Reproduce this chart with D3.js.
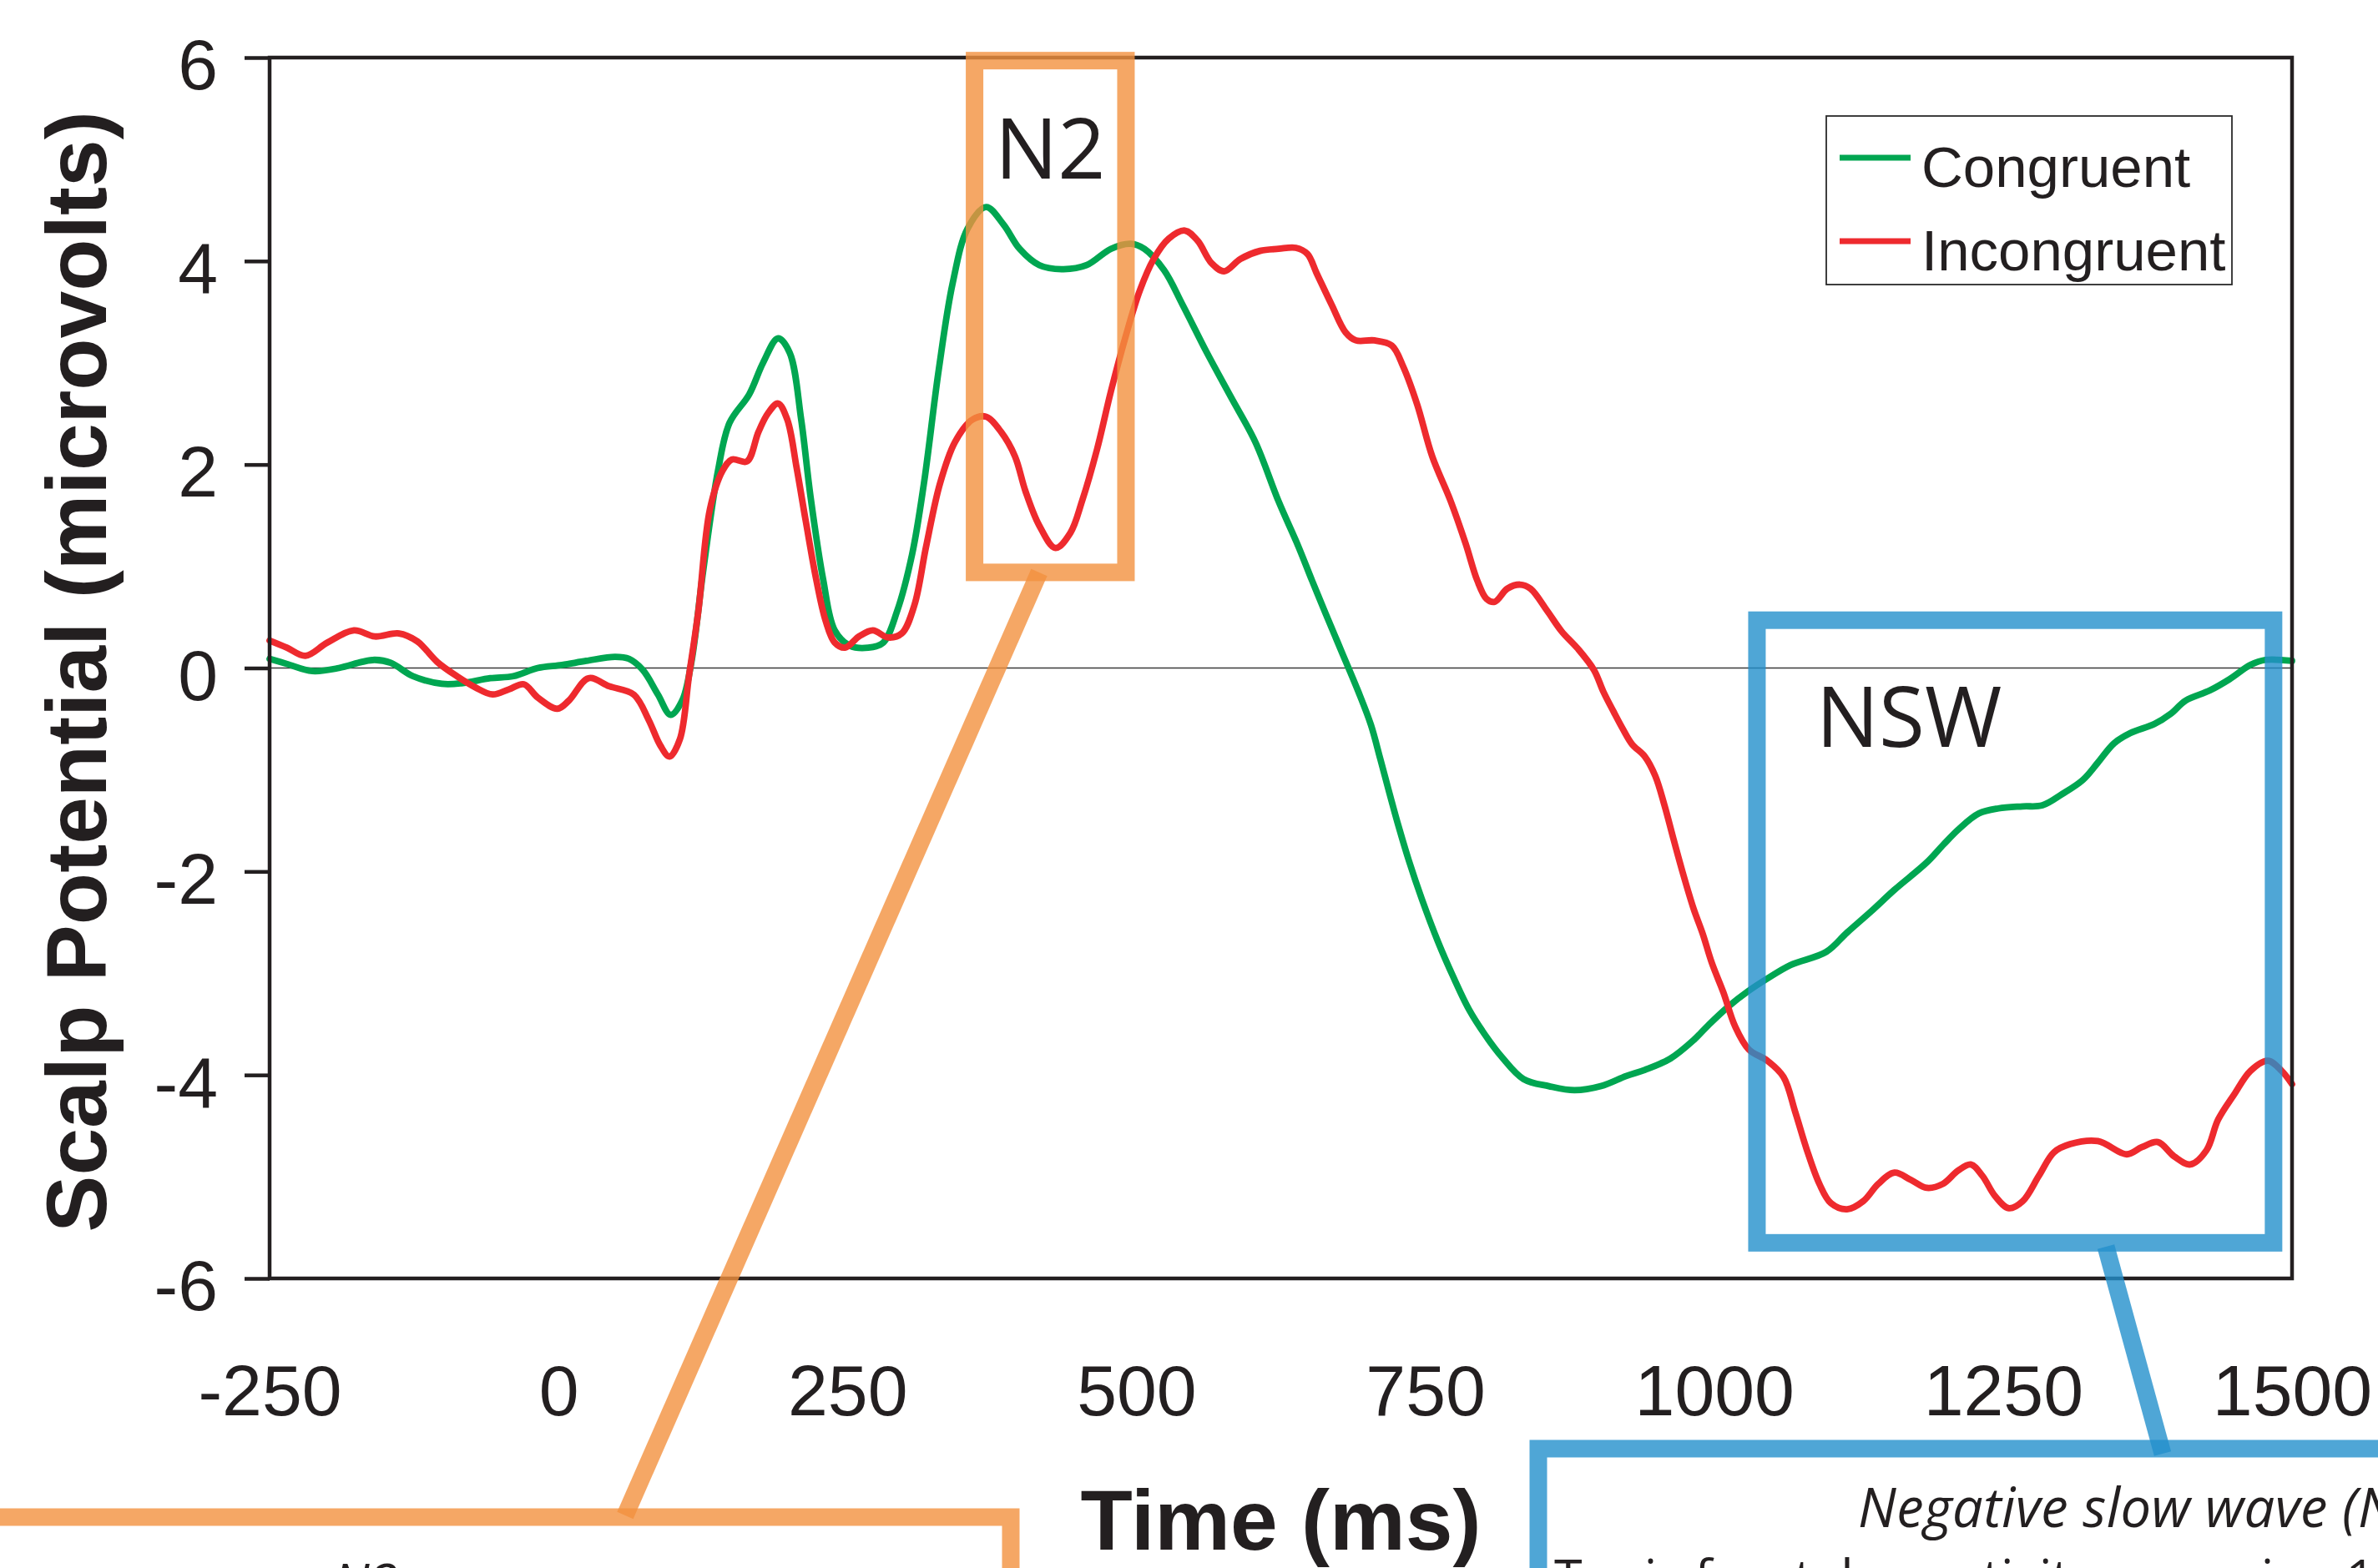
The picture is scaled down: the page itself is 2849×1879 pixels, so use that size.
<!DOCTYPE html>
<html>
<head>
<meta charset="utf-8">
<script src="https://cdn.jsdelivr.net/npm/d3@7"></script>
<style>
  html, body { margin: 0; padding: 0; background: #ffffff; }
  svg { display: block; }
</style>
</head>
<body>
<svg id="chart" width="2849" height="1879"></svg>
<script>
// Grand-average ERP waveforms (µV) by time (ms)
const congruentTime = [-250,-235,-213,-190,-170,-159,-145,-126,-101,-84,-59,-39,-18,3,24,49,61,73,86,97,107,115,125,138,148,165,177,190,200,210,218,229,239,252,268,281,293,306,316,329,341,354,370,385,399,416,437,457,478,495,507,524,540,561,582,603,623,640,652,664,678,692,703,711,719,727,736,747,761,774,788,802,816,835,857,879,902,924,940,962,982,995,1012,1029,1045,1066,1097,1115,1136,1156,1184,1198,1212,1229,1246,1267,1284,1301,1319,1332,1346,1360,1381,1395,1408,1429,1446,1464,1477,1500];
const congruent = [0.09,0.04,-0.03,0.0,0.06,0.08,0.05,-0.08,-0.155,-0.15,-0.1,-0.08,0.0,0.03,0.07,0.11,0.09,-0.02,-0.26,-0.46,-0.32,0.06,0.94,1.94,2.41,2.69,3.0,3.24,3.1,2.44,1.69,0.87,0.37,0.22,0.2,0.25,0.56,1.12,1.8,2.93,3.78,4.32,4.53,4.36,4.12,3.96,3.92,3.96,4.12,4.17,4.12,3.91,3.57,3.1,2.66,2.22,1.64,1.2,0.86,0.53,0.15,-0.23,-0.56,-0.89,-1.23,-1.56,-1.9,-2.27,-2.69,-3.03,-3.36,-3.61,-3.82,-4.04,-4.11,-4.15,-4.11,-4.01,-3.95,-3.84,-3.66,-3.51,-3.33,-3.18,-3.06,-2.92,-2.79,-2.6,-2.39,-2.18,-1.91,-1.74,-1.58,-1.43,-1.38,-1.36,-1.35,-1.24,-1.1,-0.93,-0.74,-0.64,-0.55,-0.45,-0.32,-0.22,-0.11,0.03,0.08,0.07];

const incongruentTime = [-250,-235,-219,-200,-177,-159,-138,-122,-105,-88,-72,-57,-43,-30,-18,-1,9,26,44,65,78,88,96,105,113,121,131,142,150,163,173,181,190,198,206,214,223,231,239,248,260,272,285,297,308,318,330,343,358,370,383,395,404,416,430,443,453,466,478,491,503,515,528,542,553,565,576,590,607,623,638,648,656,669,681,690,706,721,731,743,756,772,785,795,803,810,821,832,841,855,868,882,896,904,913,921,929,940,949,957,965,973,982,990,998,1008,1018,1030,1046,1060,1070,1080,1091,1101,1115,1129,1142,1156,1170,1184,1198,1211,1222,1232,1243,1255,1267,1281,1294,1308,1332,1357,1370,1384,1398,1412,1426,1436,1450,1464,1479,1491,1500];
const incongruent = [0.27,0.2,0.12,0.25,0.37,0.31,0.34,0.26,0.06,-0.08,-0.19,-0.26,-0.21,-0.16,-0.29,-0.4,-0.32,-0.1,-0.18,-0.26,-0.51,-0.76,-0.87,-0.7,-0.07,0.56,1.56,1.94,2.05,2.03,2.32,2.5,2.6,2.44,1.97,1.44,0.87,0.47,0.25,0.2,0.31,0.37,0.3,0.34,0.62,1.19,1.81,2.22,2.44,2.47,2.32,2.08,1.74,1.4,1.18,1.33,1.64,2.15,2.72,3.27,3.71,4.02,4.22,4.3,4.2,3.98,3.9,4.02,4.1,4.12,4.13,4.07,3.88,3.57,3.3,3.22,3.22,3.17,2.96,2.59,2.08,1.64,1.22,0.86,0.68,0.65,0.78,0.82,0.78,0.57,0.36,0.19,-0.02,-0.23,-0.43,-0.6,-0.75,-0.87,-1.06,-1.35,-1.69,-2.02,-2.36,-2.61,-2.9,-3.19,-3.52,-3.75,-3.86,-4.02,-4.36,-4.73,-5.07,-5.26,-5.32,-5.24,-5.07,-4.96,-5.03,-5.11,-5.07,-4.94,-4.88,-4.99,-5.19,-5.31,-5.24,-4.99,-4.76,-4.68,-4.65,-4.78,-4.71,-4.66,-4.8,-4.88,-4.74,-4.44,-4.19,-3.96,-3.86,-3.96,-4.09];

const xTicks = [-250, 0, 250, 500, 750, 1000, 1250, 1500];
const yTicks = [-6, -4, -2, 0, 2, 4, 6];
const seriesNames = ["Congruent", "Incongruent"];
const seriesColors = ["#00a651", "#ee2a2e"];

// Highlighted time windows (ms) and the µV range each box spans
const n2Window = { t0: 360, t1: 491, v0: 0.94, v1: 5.97 };
const nswWindow = { t0: 1037, t1: 1484, v0: -5.65, v1: 0.47 };

const svg = d3.select("#chart");
const ink = "#231f20";
const plot = { left: 323, right: 2746, top: 69, bottom: 1532 };
const plainNumber = d => String(d);   // ASCII hyphen for negatives

const x = d3.scaleLinear().domain([-250, 1500]).range([plot.left, plot.right]);
const y = d3.scaleLinear().domain([-6, 6]).range([plot.bottom, plot.top]);

// zero reference line
svg.append("line")
  .attr("x1", x(-250)).attr("x2", x(1500))
  .attr("y1", y(0)).attr("y2", y(0))
  .attr("stroke", "#3a3a3a").attr("stroke-width", 1.6);

// waveforms
const line = d3.line()
  .x(d => x(d[0])).y(d => y(d[1]))
  .curve(d3.curveCatmullRom.alpha(0.5));

const series = [
  d3.zip(congruentTime, congruent),
  d3.zip(incongruentTime, incongruent)
];
series.forEach((pts, i) => {
  svg.append("path")
    .datum(pts)
    .attr("d", line)
    .attr("fill", "none")
    .attr("stroke", seriesColors[i])
    .attr("stroke-width", 7.8)
    .attr("stroke-linejoin", "round")
    .attr("stroke-linecap", "round");
});

// frame
svg.append("rect")
  .attr("x", plot.left).attr("y", plot.top)
  .attr("width", plot.right - plot.left).attr("height", plot.bottom - plot.top)
  .attr("fill", "none").attr("stroke", ink).attr("stroke-width", 4.5);

// y axis
const yAxis = svg.append("g")
  .attr("transform", `translate(${plot.left},0)`)
  .call(d3.axisLeft(y).tickValues(yTicks).tickSize(30).tickSizeOuter(0).tickPadding(32)
    .tickFormat(plainNumber));
yAxis.select(".domain").remove();
yAxis.selectAll(".tick line").attr("stroke", ink).attr("stroke-width", 4.5);
yAxis.selectAll(".tick text")
  .attr("dy", "0.44em")
  .attr("fill", ink)
  .style("font-family", "'Liberation Sans', Arial, sans-serif")
  .style("font-size", "86px");

// x axis
const xAxis = svg.append("g")
  .attr("transform", `translate(0,${plot.bottom})`)
  .call(d3.axisBottom(x).tickValues(xTicks).tickSize(0).tickPadding(103)
    .tickFormat(plainNumber));
xAxis.select(".domain").remove();
xAxis.selectAll(".tick text")
  .attr("fill", ink)
  .style("font-family", "'Liberation Sans', Arial, sans-serif")
  .style("font-size", "86px");

// axis titles
svg.append("text")
  .attr("transform", "translate(127,805) rotate(-90)")
  .attr("text-anchor", "middle")
  .attr("fill", ink)
  .style("font-family", "'Liberation Sans', Arial, sans-serif")
  .style("font-weight", "bold")
  .style("font-size", "102px")
  .text("Scalp Potential (microvolts)");

svg.append("text")
  .attr("x", (plot.left + plot.right) / 2).attr("y", 1857)
  .attr("text-anchor", "middle")
  .attr("fill", ink)
  .style("font-family", "'Liberation Sans', Arial, sans-serif")
  .style("font-weight", "bold")
  .style("font-size", "102px")
  .text("Time (ms)");

// legend
const legend = svg.append("g");
legend.append("rect")
  .attr("x", 2188).attr("y", 139).attr("width", 486).attr("height", 202)
  .attr("fill", "#ffffff").attr("stroke", "#2a2a2a").attr("stroke-width", 1.8);
seriesNames.forEach((name, i) => {
  const ly = 189 + i * 100;
  legend.append("line")
    .attr("x1", 2204).attr("x2", 2289).attr("y1", ly).attr("y2", ly)
    .attr("stroke", seriesColors[i]).attr("stroke-width", 7);
  legend.append("text")
    .attr("x", 2302).attr("y", ly + 35)
    .attr("fill", ink)
    .style("font-family", "'Liberation Sans', Arial, sans-serif")
    .style("font-size", "69px")
    .text(name);
});

// annotation boxes
const orange = "#f3913f";
const blue = "#2390cc";
const boxOpacity = 0.8;
const boxW = 21;

function windowBox(w, color) {
  svg.append("rect")
    .attr("x", x(w.t0)).attr("y", y(w.v1))
    .attr("width", x(w.t1) - x(w.t0)).attr("height", y(w.v0) - y(w.v1))
    .attr("fill", "none")
    .attr("stroke", color).attr("stroke-opacity", boxOpacity).attr("stroke-width", boxW);
}
windowBox(n2Window, orange);
windowBox(nswWindow, blue);

const boxLabel = { family: "'Open Sans', 'Noto Sans', sans-serif", size: "100px" };
svg.append("text")
  .attr("x", (x(n2Window.t0) + x(n2Window.t1)) / 2).attr("y", 214)
  .attr("text-anchor", "middle").attr("fill", ink)
  .style("font-family", boxLabel.family).style("font-size", boxLabel.size)
  .text("N2");
svg.append("text")
  .attr("x", 2287).attr("y", 895)
  .attr("text-anchor", "middle").attr("fill", ink)
  .style("font-family", boxLabel.family).style("font-size", boxLabel.size)
  .text("NSW");

// leader lines to the description panels
svg.append("line")
  .attr("x1", 1245).attr("y1", 686).attr("x2", 749).attr("y2", 1816)
  .attr("stroke", orange).attr("stroke-opacity", boxOpacity).attr("stroke-width", boxW);
svg.append("line")
  .attr("x1", 2523).attr("y1", 1494).attr("x2", 2591).attr("y2", 1742)
  .attr("stroke", blue).attr("stroke-opacity", boxOpacity).attr("stroke-width", boxW);

// description panels (continue below the figure edge)
svg.append("path")
  .attr("d", "M-40,1818 L1211,1818 L1211,1960")
  .attr("fill", "none").attr("stroke", orange).attr("stroke-opacity", boxOpacity)
  .attr("stroke-width", boxW);
svg.append("path")
  .attr("d", "M1843,1960 L1843,1736 L2900,1736")
  .attr("fill", "none").attr("stroke", blue).attr("stroke-opacity", boxOpacity)
  .attr("stroke-width", boxW);

svg.append("text")
  .attr("x", 438).attr("y", 1919)
  .attr("text-anchor", "middle").attr("fill", ink)
  .style("font-family", boxLabel.family).style("font-style", "italic").style("font-size", "62px")
  .text("N2");

svg.append("text")
  .attr("x", 2226).attr("y", 1830)
  .attr("fill", ink)
  .style("font-family", boxLabel.family).style("font-style", "italic").style("font-size", "65px")
  .style("letter-spacing", "0.4px")
  .text("Negative slow wave (NSW)");

svg.append("text")
  .attr("x", 1862).attr("y", 1912)
  .attr("fill", ink)
  .style("font-family", boxLabel.family).style("font-size", "61px")
  .text("Tonic frontal negativity occurring 1000–1500 ms");
</script>
</body>
</html>
